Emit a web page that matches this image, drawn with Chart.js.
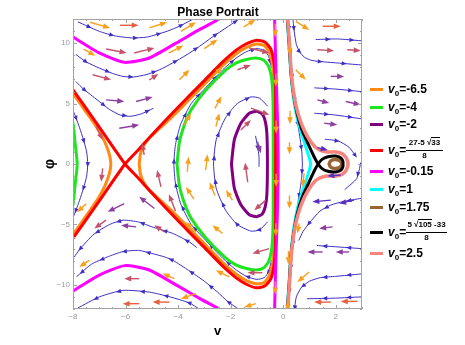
<!DOCTYPE html>
<html>
<head>
<meta charset="utf-8">
<title>Phase Portrait</title>
<script src="https://cdn.jsdelivr.net/npm/chart.js@4.4.1/dist/chart.umd.min.js"></script>
<style>
  html, body { margin: 0; padding: 0; background: #fff; }
  #wrap { position: relative; width: 465px; height: 345px; overflow: hidden; font-family: "Liberation Sans", Arial, sans-serif; color: #000; }
  #chart { position: absolute; left: 0; top: 0; }
  #title { position: absolute; top: 5px; left: 218px; transform: translateX(-50%); font-size: 12px; font-weight: bold; line-height: 14px; white-space: nowrap; }
  .key { position: absolute; left: 370px; width: 13px; height: 3px; }
  .lab { position: absolute; left: 388px; font-size: 12px; font-weight: bold; line-height: 14px; white-space: nowrap; }
  .lab sub { font-size: 8px; line-height: 0; vertical-align: -3px; }
  .num, .den { position: absolute; font-size: 8px; font-weight: bold; line-height: 10px; text-align: center; white-space: nowrap; }
  .bar { position: absolute; height: 1px; background: #000; }
  .sq { border-top: 1px solid #000; }
</style>
</head>
<body>
<div id="wrap">
  <canvas id="chart" width="465" height="345"></canvas>
  <div id="title">Phase Portrait</div>
  <div id="legend"></div>
</div>
<script>
// axis ticks
const xTickValues = [-8, -6, -4, -2, 0, 2];
const yTickValues = [-10, -5, 0, 5, 10];

// legend (v0 values of the curves, in drawing order)
const legendColors = ['#ff8a14', '#1ee61e', '#800080', '#ff0000', '#ff00ff', '#00ffff', '#996633', '#000000', '#f5857d'];
const legendValues = ['-6.5', '-4', '-2', 'frac1', '-0.15', '1', '1.75', 'frac2', '2.5'];

// solution curves, [v, phi]
const orangeLeft = [[-8.15,6.3],[-8,5.85],[-7.5,4.3],[-7.1,3.05],[-6.85,2.1],[-6.7,1.35],[-6.6,0.65],[-6.56,0],[-6.6,-0.65],[-6.7,-1.35],[-6.85,-2.1],[-7.1,-3.05],[-7.5,-4.3],[-8,-5.85],[-8.15,-6.3]];
const orangeRight = [[-5.48,0],[-5.44,0.75],[-5.33,1.45],[-5.12,2.08],[-4.8,2.75],[-4.4,3.55],[-4,4.4],[-3.5,5.5],[-3,6.6],[-2.3,8.15],[-1.8,9.1],[-1.4,9.65],[-1,9.93],[-0.72,9.8],[-0.53,9.25],[-0.41,8.25],[-0.36,7],[-0.34,5],[-0.33,0],[-0.34,-5],[-0.36,-7],[-0.41,-8.25],[-0.53,-9.25],[-0.72,-9.8],[-1,-9.93],[-1.4,-9.65],[-1.8,-9.1],[-2.3,-8.15],[-3,-6.6],[-3.5,-5.5],[-4,-4.4],[-4.4,-3.55],[-4.8,-2.75],[-5.12,-2.08],[-5.33,-1.45],[-5.44,-0.75],[-5.48,0]];
const greenLoop = [[-4.04,0],[-3.95,1.8],[-3.75,3.3],[-3.5,4.5],[-2.95,6.1],[-2.2,7.75],[-1.8,8.35],[-1.4,8.65],[-1.04,8.77],[-0.75,8.6],[-0.56,8.1],[-0.45,7.2],[-0.4,6],[-0.38,4],[-0.38,0],[-0.38,-4],[-0.4,-6],[-0.45,-7.2],[-0.56,-8.1],[-0.75,-8.6],[-1.04,-8.77],[-1.4,-8.65],[-1.8,-8.35],[-2.2,-7.75],[-2.95,-6.1],[-3.5,-4.5],[-3.75,-3.3],[-3.95,-1.8],[-4.04,0]];
const greenArc = [[-8.1,3.9],[-8,3.37],[-7.92,1.72],[-7.84,0],[-7.92,-1.72],[-8,-3.37],[-8.1,-3.9]];
const purpleLoop = [[-1.97,0],[-1.86,2],[-1.61,3.37],[-1.29,4.2],[-1.01,4.36],[-0.8,4.15],[-0.68,3.5],[-0.62,2.5],[-0.6,0],[-0.62,-2.5],[-0.68,-3.5],[-0.8,-4.15],[-1.01,-4.36],[-1.29,-4.2],[-1.61,-3.37],[-1.86,-2],[-1.97,0]];
const redCurve = [[-8.15,6.6],[-7,3.05],[-6.02,0],[-5.5,-1.2],[-5,-2.4],[-4,-4.7],[-3,-6.9],[-2.3,-8.45],[-1.8,-9.4],[-1.4,-9.95],[-1,-10.25],[-0.7,-10.1],[-0.47,-9.5],[-0.35,-8.4],[-0.3,-7],[-0.29,-5],[-0.29,0],[-0.29,5],[-0.3,7],[-0.35,8.4],[-0.47,9.5],[-0.7,10.1],[-1,10.25],[-1.4,9.95],[-1.8,9.4],[-2.3,8.45],[-3,6.9],[-4,4.7],[-5,2.4],[-5.5,1.2],[-6.02,0],[-7,-3.05],[-8.15,-6.6]];
const magentaTop = [[-8.1,10.65],[-8,10.51],[-7,9.19],[-6.03,8.41],[-5.1,8.77],[-4.08,10],[-3.19,11.12],[-2.43,12],[-2.3,12.2]];
const magentaBottom = [[-8.1,-10.65],[-8,-10.51],[-7,-9.19],[-6.03,-8.41],[-5.1,-8.77],[-4.08,-10],[-3.19,-11.12],[-2.43,-12],[-2.3,-12.2]];
const magentaMid = [[-0.33,12.3],[-0.28,8],[-0.22,4],[-0.19,0],[-0.22,-4],[-0.28,-8],[-0.33,-12.3]];
const cyanCurve = [[0.14,12.3],[0.22,9.9],[0.29,7.5],[0.36,6],[0.45,4.7],[0.55,3.6],[0.68,2.6],[0.82,1.7],[0.95,0.8],[1.02,0.3],[1.04,0],[1.02,-0.3],[0.95,-0.8],[0.82,-1.7],[0.68,-2.6],[0.55,-3.6],[0.45,-4.7],[0.36,-6],[0.29,-7.5],[0.22,-9.9],[0.14,-12.3]];
const brownLoop = [[1.75,0],[1.8,0.25],[1.95,0.37],[2.1,0.33],[2.2,0.18],[2.23,0],[2.2,-0.18],[2.1,-0.33],[1.95,-0.37],[1.8,-0.25],[1.75,0]];
const blackCurve = [[0.15,12.3],[0.23,9.9],[0.3,7.5],[0.38,6],[0.48,4.7],[0.6,3.6],[0.75,2.6],[0.92,1.8],[1.08,1.05],[1.2,0.5],[1.33,0],[1.48,-0.38],[1.7,-0.6],[2,-0.66],[2.2,-0.5],[2.27,-0.25],[2.28,0],[2.27,0.25],[2.2,0.5],[2,0.66],[1.7,0.6],[1.48,0.38],[1.33,0],[1.2,-0.5],[1.08,-1.05],[0.92,-1.8],[0.75,-2.6],[0.6,-3.6],[0.48,-4.7],[0.38,-6],[0.3,-7.5],[0.23,-9.9],[0.15,-12.3]];
const pinkCurve = [[0.16,12.3],[0.24,9.9],[0.31,7.5],[0.39,6],[0.5,4.7],[0.65,3.6],[0.82,2.7],[1,2],[1.2,1.45],[1.4,1.15],[1.68,1],[2,1],[2.25,0.85],[2.4,0.5],[2.47,0],[2.4,-0.5],[2.25,-0.85],[2,-1],[1.68,-1],[1.4,-1.15],[1.2,-1.45],[1,-2],[0.82,-2.7],[0.65,-3.6],[0.5,-4.7],[0.39,-6],[0.31,-7.5],[0.24,-9.9],[0.16,-12.3]];

// stream lines, points listed in the direction of flow
const streamTop1 = [[-7.8,11.75],[-7,10.98],[-6.4,10.6],[-5.73,10.43],[-5.2,10.5],[-4.84,10.7],[-4.4,11],[-3.95,11.4],[-3.51,11.9]];
const streamTop2 = [[-7.88,9.05],[-7.5,8.45],[-7,7.94],[-6.5,7.5],[-6.1,7.25],[-5.7,7.2],[-5.22,7.39],[-4.7,7.8],[-4.21,8.36],[-3.7,9],[-3.19,9.73],[-2.7,10.5],[-2.18,11.26],[-1.74,11.9]];
const streamTop3 = [[-7.88,6.8],[-7.6,6.2],[-7.25,5.6],[-6.9,5],[-6.6,4.5],[-6.2,4.05],[-5.8,3.95],[-5.4,4.15],[-4.95,4.6]];
const streamLeft = [[-8.05,4.7],[-7.9,3.9],[-7.75,3],[-7.6,2],[-7.48,1],[-7.44,0],[-7.48,-1],[-7.6,-2],[-7.75,-3],[-7.9,-3.9],[-8.05,-4.7]];
const streamBot1 = [[-3.2,-12],[-3.57,-11.5],[-4.3,-11],[-5.1,-10.6],[-6.1,-10.46],[-7,-11],[-7.8,-11.9]];
const streamBot2 = [[-1.7,-12],[-2.1,-11.4],[-2.5,-10.6],[-3,-9.7],[-3.6,-8.8],[-4.2,-7.97],[-4.5,-7.7],[-5,-7.4],[-5.5,-7.15],[-6.1,-7.25],[-6.7,-7.7],[-7.3,-8.3],[-7.85,-9.3]];
const streamBot3 = [[-3.3,-6.9],[-3.57,-6.45],[-4.2,-5.75],[-5,-5.2],[-5.5,-4.8],[-6.1,-4.65],[-6.6,-5],[-7.2,-5.8],[-7.76,-7.1],[-7.95,-7.7]];
const streamLoopOuter = [[-0.45,-8],[-0.55,-8.9],[-0.72,-9.4],[-1,-9.55],[-1.4,-9.3],[-1.8,-8.75],[-2.3,-7.8],[-3,-6.2],[-3.5,-5],[-3.9,-3.3],[-4.1,-1.6],[-4.16,0],[-4.1,1.6],[-3.9,3.3],[-3.5,5],[-3,6.2],[-2.3,7.8],[-1.8,8.75],[-1.4,9.3],[-1,9.55],[-0.72,9.4],[-0.55,8.9],[-0.45,8]];
const streamLoopMid = [[-0.6,-4.8],[-0.9,-5.45],[-1.23,-5.55],[-1.75,-5],[-2.2,-3.8],[-2.55,-2],[-2.65,0],[-2.55,2],[-2.2,3.8],[-1.75,5],[-1.23,5.55],[-0.9,5.45],[-0.6,4.8]];
const streamLoopInner = [[-1.05,2.3],[-0.98,1.5],[-0.92,0.6],[-0.92,-0.2]];
const streamNearAxis = [[0.2,12.2],[0.26,9.5],[0.33,7.5],[0.4,6],[0.47,4.7],[0.55,3.4],[0.65,2],[0.71,1],[0.73,0],[0.71,-1],[0.65,-2],[0.55,-3.4],[0.47,-4.7],[0.4,-6],[0.33,-7.5],[0.26,-9.5],[0.2,-12.2]];
const streamRight1 = [[0.36,12.2],[0.42,11],[0.5,9.9],[0.62,9.3],[0.8,8.85],[1.05,8.6],[1.3,8.5],[2.06,8.36],[2.95,8.2]];
const streamRight2 = [[1.25,10.3],[2.06,10.35],[2.95,10.2]];
const streamRight3 = [[1.2,6.3],[2,6.2],[2.95,6]];
const streamRight4 = [[1.2,4.2],[2,4.05],[2.95,3.75]];
const streamRight5 = [[1.6,2.05],[2.1,1.9],[2.5,1.4],[2.75,0.7]];
const streamRight6 = [[2.95,0.1],[2.8,-1.2],[2.35,-2.1]];
const streamRight7 = [[2.95,-2.85],[2.3,-3.1],[1.81,-3.4],[1.4,-3.9],[0.99,-4.9],[0.75,-5.6],[0.6,-6.3]];
const streamRight8 = [[2.95,-7],[2,-6.85],[1.3,-6.75]];
const streamRight9 = [[2.95,-9.1],[2,-9.3],[1.43,-9.4],[1,-9.7],[0.7,-10.2],[0.5,-11],[0.42,-12.2]];
const streamRight10 = [[2.95,-11],[2,-11.1],[0.92,-11.15]];

// field arrows [v tail, phi tail, v head, phi head], grouped by their colour (speed)
const arrowsOrange = [
  [-7.35,11.73,-6.59,11.26],[-5.1,11.26,-4.42,11.73],[-3.89,10.98,-3.32,11.73],[-1.5,11.35,-1.05,11.95],[0.48,11.8,0.99,11.1],
  [-7.6,9.5,-7.15,8.95],[-4.35,9.2,-3.8,9.8],[-3,9.55,-2.5,10.3],[-3.95,6.97,-3.57,7.8],[-2.69,7.3,-2.31,8],
  [-2.6,4.6,-2.35,5.6],[-3.76,3.24,-3.51,4.2],[-2.56,3.1,-2.43,4.2],[-3.65,-0.64,-3.6,0.6],[-2.95,-0.5,-2.88,0.8],
  [-3.4,-2.9,-3.7,-1.9],[-2.6,-2.6,-2.8,-1.5],[-1.93,-3,-2.18,-2.16],[-3.32,-5.62,-3.7,-4.79],[-2.31,-5.75,-2.69,-5.06],
  [-7.5,-3.3,-7.85,-4],[-7.38,-7.97,-7.76,-8.52],[-4.14,-9.49,-4.59,-9.07],[-3.32,-10.73,-3.89,-11.15],[-2.05,-9.35,-2.56,-8.8],
  [-1.04,-11.56,-1.48,-11.84],[0.99,-8.94,0.54,-9.77],[0.48,7.8,0.86,6.97],[0.61,-4.92,0.54,-5.75],[0.8,-0.77,0.73,-1.88],
  [-0.3,11.6,-0.3,10.5],[-0.28,7.5,-0.28,6.4],[-0.27,3.6,-0.27,2.5],[-0.27,-0.8,-0.27,-1.9],[-0.28,-4.9,-0.28,-6],[-0.3,-9.7,-0.3,-10.8],
  [0.25,10.1,0.25,9],[0.26,4.4,0.26,3.3],[0.24,1.8,0.24,0.8],[0.24,-2.6,0.24,-3.7],[0.2,-7.2,0.2,-8.3],[0.18,-11.2,0.18,-12.2]
];
const arrowsCoral = [
  [-6.21,11.48,-5.5,11.48],[1.5,11.4,2.19,11.4],[-4.33,-11.43,-4.97,-11.43],[-5.48,-11.56,-6.11,-11.56],[2.83,-11.37,2.19,-11.37],[1.81,-11.43,1.18,-11.43]
];
const arrowsRose = [
  [-6.74,9.52,-5.96,9.19],[-5.67,9.19,-4.9,9.6],[-1.29,9.6,-0.53,9.19],[1.3,9.46,1.94,9.38],[2.44,9.46,2.95,9.38],
  [-7.25,7.39,-6.55,6.97],[-5.1,6.95,-4.75,7.45],[-1.74,7.8,-1.23,8.2],[-1.23,4.62,-0.53,4.07],[-7.12,3.1,-6.87,1.99],
  [-1.61,2.82,-1.23,3.65],[-6.87,-0.36,-6.93,-1.47],[-5.29,0.75,-5.37,1.72],[-4.65,-1.9,-4.8,-0.5],[-4.1,-3.9,-4.35,-2.5],
  [-1.35,-1.5,-1.45,0.1],[-0.66,-2.99,-1.1,-3.82],[-6.74,-4.65,-7.19,-5.34],[-4.52,-5.62,-4.9,-5.06],[-0.53,-7,-1.17,-7.41],
  [-5.48,-9.49,-6.05,-9.49],[-0.79,-9,-1.36,-9]
];
const arrowsPurple = [
  [1.81,7.25,2.32,7.25],[-6.74,5.31,-6.05,5.17],[-5.6,5.17,-4.97,5.54],[1.3,5.31,1.75,5.04],[2.38,5.17,2.95,4.9],
  [-6.24,2.96,-5.48,3.24],[1.56,3.38,2.06,3.24],[-6.05,-3.27,-6.68,-3.96],[-4.9,-3.68,-5.48,-2.71],[-5.6,-5.2,-6.17,-5.06],
  [1.88,-5.2,1.37,-5.34],[1.5,-7.28,0.92,-7.28],[2.51,-7.28,2,-7.28],[-0.98,1.85,-0.85,0.89]
];
const arrowsIndigo = [
  [1.81,-2.99,1.11,-3.13],[2.7,-2.99,2.13,-3.27],[2.19,-0.91,1.68,-1],[1.3,1.35,1.7,1.15]
];

const streamBlue = '#3d2fc4';
const fontFamily = "'Liberation Sans', Arial, sans-serif";

const streamlines = [streamTop1, streamTop2, streamTop3, streamLeft, streamBot1, streamBot2, streamBot3,
  streamLoopOuter, streamLoopMid, streamLoopInner, streamNearAxis, streamRight1, streamRight2, streamRight3,
  streamRight4, streamRight5, streamRight6, streamRight7, streamRight8, streamRight9, streamRight10];

const curves = [
  { color: legendColors[0], width: 3, parts: [orangeLeft, orangeRight] },
  { color: legendColors[1], width: 3, parts: [greenLoop, greenArc] },
  { color: legendColors[2], width: 3, parts: [purpleLoop] },
  { color: legendColors[3], width: 3, parts: [redCurve] },
  { color: legendColors[4], width: 3, parts: [magentaTop, magentaBottom, magentaMid] },
  { color: legendColors[5], width: 3, parts: [cyanCurve] },
  { color: legendColors[6], width: 3.5, parts: [brownLoop] },
  { color: legendColors[7], width: 3, parts: [blackCurve] },
  { color: legendColors[8], width: 3.5, parts: [pinkCurve] }
];

const arrowGroups = [
  { color: '#5a2fc0', list: arrowsIndigo },
  { color: '#8e3fa0', list: arrowsPurple },
  { color: '#c4536b', list: arrowsRose },
  { color: '#e7603f', list: arrowsCoral },
  { color: '#f9a01b', list: arrowsOrange }
];

const toPoints = list => list.map(p => ({ x: p[0], y: p[1] }));

const datasets = [];
streamlines.forEach(s => {
  datasets.push({ data: toPoints(s), showLine: true, borderColor: streamBlue, borderWidth: 1, pointRadius: 0, tension: 0.2, order: 100, isStream: true });
});
curves.forEach((c, i) => {
  c.parts.forEach(part => {
    datasets.push({ data: toPoints(part), showLine: true, borderColor: c.color, borderWidth: c.width, pointRadius: 0, tension: 0.2, order: 50 - i });
  });
});

function head(ctx, x, y, ang, len, half) {
  ctx.beginPath();
  ctx.moveTo(x + Math.cos(ang) * len / 2, y + Math.sin(ang) * len / 2);
  ctx.lineTo(x - Math.cos(ang) * len / 2 + Math.sin(ang) * half, y - Math.sin(ang) * len / 2 - Math.cos(ang) * half);
  ctx.lineTo(x - Math.cos(ang) * len / 2 - Math.sin(ang) * half, y - Math.sin(ang) * len / 2 + Math.cos(ang) * half);
  ctx.closePath();
  ctx.fill();
}

function clipArea(chart) {
  const a = chart.chartArea;
  chart.ctx.beginPath();
  chart.ctx.rect(a.left, a.top, a.right - a.left, a.bottom - a.top);
  chart.ctx.clip();
}

const phasePlugin = {
  id: 'phase',
  // small arrow heads along every stream line
  afterDatasetDraw(chart, args) {
    const ds = chart.data.datasets[args.index];
    if (!ds.isStream) return;
    const ctx = chart.ctx;
    const p = args.meta.data;
    ctx.save();
    clipArea(chart);
    ctx.fillStyle = streamBlue;
    let walked = 0, next = 12;
    for (let i = 1; i < p.length; i++) {
      const dx = p[i].x - p[i - 1].x, dy = p[i].y - p[i - 1].y;
      const len = Math.hypot(dx, dy);
      while (len > 0 && walked + len >= next) {
        const t = (next - walked) / len;
        head(ctx, p[i - 1].x + dx * t, p[i - 1].y + dy * t, Math.atan2(dy, dx), 5, 2.2);
        next += 24;
      }
      walked += len;
    }
    ctx.restore();
  },
  afterDatasetsDraw(chart) {
    const ctx = chart.ctx, xs = chart.scales.x, ys = chart.scales.y, a = chart.chartArea;
    // vector field arrows
    ctx.save();
    clipArea(chart);
    arrowGroups.forEach(g => {
      ctx.strokeStyle = g.color;
      ctx.fillStyle = g.color;
      ctx.lineWidth = 1.4;
      g.list.forEach(r => {
        const x1 = xs.getPixelForValue(r[0]), y1 = ys.getPixelForValue(r[1]);
        const x2 = xs.getPixelForValue(r[2]), y2 = ys.getPixelForValue(r[3]);
        const ang = Math.atan2(y2 - y1, x2 - x1);
        ctx.beginPath();
        ctx.moveTo(x1, y1);
        ctx.lineTo(x2 - Math.cos(ang) * 5, y2 - Math.sin(ang) * 5);
        ctx.stroke();
        head(ctx, x2 - Math.cos(ang) * 3.5, y2 - Math.sin(ang) * 3.5, ang, 7, 2.8);
      });
    });
    ctx.restore();

    // frame with inward ticks on all four sides
    ctx.save();
    ctx.strokeStyle = '#a3a3a3';
    ctx.lineWidth = 1;
    ctx.strokeRect(a.left + 0.5, a.top + 0.5, a.right - a.left - 1, a.bottom - a.top - 1);
    ctx.beginPath();
    for (let k = 0; k <= 22; k++) {
      const v = -8 + k * 0.5;
      const x = Math.round(xs.getPixelForValue(v)) + 0.5;
      const l = (k % 4 === 0) ? 4 : 2;
      ctx.moveTo(x, a.bottom); ctx.lineTo(x, a.bottom - l);
      ctx.moveTo(x, a.top); ctx.lineTo(x, a.top + l);
    }
    for (let k = 0; k <= 24; k++) {
      const f = -12 + k;
      const y = Math.round(ys.getPixelForValue(f)) + 0.5;
      const l = (f % 5 === 0) ? 4 : 2;
      ctx.moveTo(a.left, y); ctx.lineTo(a.left + l, y);
      ctx.moveTo(a.right, y); ctx.lineTo(a.right - l, y);
    }
    ctx.stroke();
    ctx.restore();
  }
};

const tickLabel = v => (v < 0 ? '\u2212' + Math.abs(v) : String(v));

new Chart(document.getElementById('chart').getContext('2d'), {
  type: 'scatter',
  data: { datasets: datasets },
  options: {
    responsive: false,
    animation: false,
    devicePixelRatio: 1,
    events: [],
    elements: { point: { radius: 0, hoverRadius: 0 }, line: { capBezierPoints: false, borderCapStyle: 'round', borderJoinStyle: 'round' } },
    layout: { padding: { top: 19, right: 103, bottom: 5, left: 0 } },
    plugins: { legend: { display: false }, tooltip: { enabled: false }, title: { display: false } },
    scales: {
      x: {
        type: 'linear', min: -8, max: 3,
        afterBuildTicks: s => { s.ticks = xTickValues.map(v => ({ value: v })); },
        afterFit: s => { s.height = 31; },
        grid: { display: false, drawTicks: false },
        border: { display: false },
        ticks: { font: { family: fontFamily, size: 8 }, color: '#9a9a9a', padding: 3, maxRotation: 0, autoSkip: false, callback: tickLabel },
        title: { display: true, text: 'v', color: '#000', font: { family: fontFamily, size: 13, weight: 'bold' }, padding: { top: 0, bottom: 1 } }
      },
      y: {
        type: 'linear', min: -12, max: 12,
        afterBuildTicks: s => { s.ticks = yTickValues.map(v => ({ value: v })); },
        afterFit: s => { s.width = 73; },
        grid: { display: false, drawTicks: false },
        border: { display: false },
        ticks: { font: { family: fontFamily, size: 8 }, color: '#9a9a9a', padding: 3, autoSkip: false, callback: tickLabel },
        title: { display: true, text: 'φ', color: '#000', font: { family: fontFamily, size: 14, weight: 'bold' }, padding: { top: 42, bottom: 0 } }
      }
    }
  },
  plugins: [phasePlugin]
});

// legend on the right, as html text
const legendTop = [89, 107, 124, 150, 171, 189, 207, 232, 253];
const legend = document.getElementById('legend');
const v0 = '<i>v</i><sub>0</sub>=';
legendValues.forEach((val, i) => {
  const y = legendTop[i];
  let html = `<div class="key" style="top:${y - 1.5}px;background:${legendColors[i]}"></div>`;
  if (val === 'frac1' || val === 'frac2') {
    const num = val === 'frac1' ? '27-5 √<span class="sq">33</span>' : '5 √<span class="sq">105</span> -33';
    const w = val === 'frac1' ? 37 : 41;
    html += `<div class="lab" style="top:${y - 7}px">${v0}</div>`;
    html += `<div class="num" style="left:406px;width:${w}px;top:${y - 12}px">${num}</div>`;
    html += `<div class="bar" style="left:406px;width:${w}px;top:${y}px"></div>`;
    html += `<div class="den" style="left:406px;width:${w}px;top:${y + 1}px">8</div>`;
  } else {
    html += `<div class="lab" style="top:${y - 7}px">${v0}${val}</div>`;
  }
  legend.insertAdjacentHTML('beforeend', html);
});
</script>
</body>
</html>
